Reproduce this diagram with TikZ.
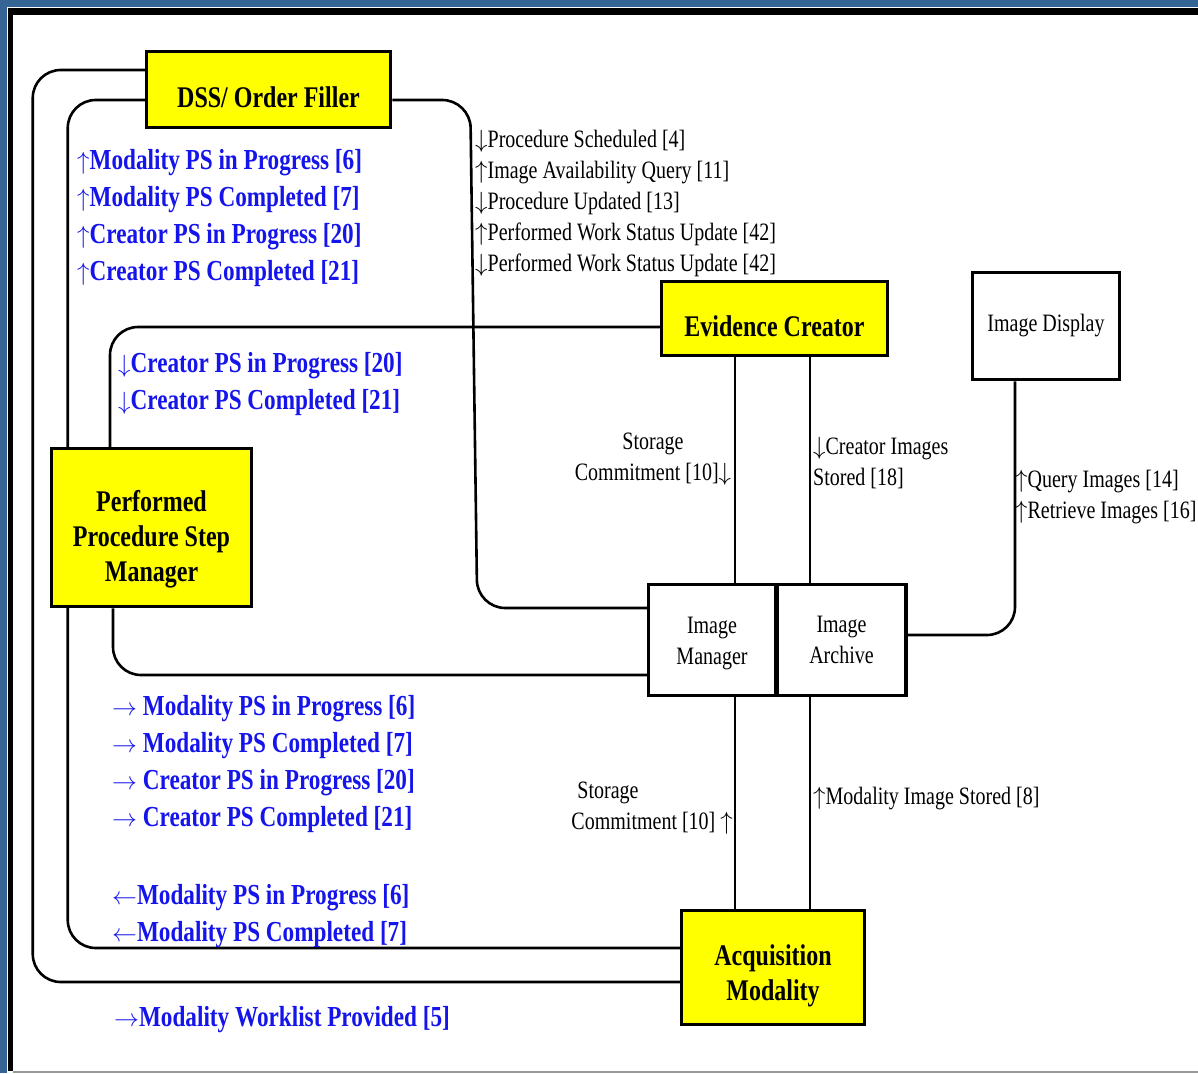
\documentclass[tikz,border=0pt]{standalone}
\usepackage{fontspec}
\newfontfamily\condfont{Liberation Serif}[FakeStretch=0.8]
\usetikzlibrary{positioning,backgrounds}

\definecolor{frameblue}{RGB}{52,101,148}
\definecolor{boxyellow}{RGB}{255,255,0}
\definecolor{psblue}{RGB}{20,20,235}
\newcommand{\msgfont}{\condfont\fontsize{25}{31}\selectfont}
\newcommand{\boxfont}{\condfont\bfseries\fontsize{30}{35}\selectfont}
\newcommand{\psfont}{\condfont\bfseries\fontsize{29}{37}\selectfont}
\newcommand{\arrup}{$\uparrow$}
\newcommand{\arrdn}{$\downarrow$}
\newcommand{\arrrt}{$\rightarrow$}
\newcommand{\arrlt}{$\leftarrow$}

\begin{document}
\begin{tikzpicture}[x=1pt,y=-1pt,lift/.style={execute at begin node={\rule{0pt}{#1}}}]
  \tikzstyle{actor}=[draw,line width=3.5pt,fill=boxyellow,inner sep=0pt,align=center,font=\boxfont]
  \tikzstyle{store}=[actor,fill=white,font=\msgfont]
  \tikzstyle{link}=[line width=2.6pt,rounded corners=28pt]
  \tikzstyle{wire}=[line width=2.2pt]
  \tikzstyle{msg}=[anchor=west,align=left,inner sep=0pt,font=\msgfont]
  \tikzstyle{psmsg}=[msg,text=psblue,font=\psfont]

  \useasboundingbox (0,0) rectangle (1198,1073);
  % frame
  \fill[frameblue] (0,0) rectangle (1198,7);
  \fill[frameblue] (0,0) rectangle (7,1073);
  \fill (8,8) rectangle (1198,15);
  \fill (8,8) rectangle (13,1071);
  \fill[black!40] (13,1071) rectangle (1198,1073);

  % actors
  \node[actor,lift=37pt,minimum width=244pt,minimum height=76pt] (dss) at (268.5,89.5) {DSS/ Order Filler};
  \node[actor,lift=37pt,minimum width=226pt,minimum height=74pt] (ec) at (774.5,318.5) {Evidence Creator};
  \node[store,minimum width=147pt,minimum height=107pt] (id) at (1046,326) {Image Display};
  \node[actor,lift=115pt,minimum width=200pt,minimum height=158pt] (ppsm) at (151.5,527.5) {Performed\\Procedure Step\\Manager};
  \node[store,lift=54pt,minimum width=127pt,minimum height=111pt] (im) at (712,640) {Image\\Manager};
  \node[store,minimum width=129pt,minimum height=111pt,right=-2pt of im] (ia) {Image\\Archive};
  \node[actor,lift=72pt,minimum width=183pt,minimum height=114pt] (am) at (773,967.5) {Acquisition\\Modality};

  \begin{scope}[on background layer]
    \draw[link] ([yshift=19.5pt]dss.west) -- ++(-112,0) -- ++(0,912) -- ([yshift=-14.5pt]am.west);
    \draw[link] ([yshift=-10.5pt]dss.west) -- ++(-77,0) -- ++(0,848) -- ([yshift=19.5pt]am.west);
    \draw[link] ([yshift=-10.5pt]dss.east) -- ++(78,0) -- ++(7,508) -- ([yshift=32pt]im.west);
    \draw[link] ([yshift=-8.5pt]ec.west) -| ([xshift=-41.5pt]ppsm.north);
    \draw[link] ([xshift=-38.5pt]ppsm.south) |- ([yshift=-35pt]im.west);
    \draw[link] ([xshift=-31pt]id.south) |- ([yshift=5pt]ia.east);
    \draw[wire] ([xshift=-39.5pt]ec.south) -- ([xshift=-39.5pt]ec.south |- im.north);
    \draw[wire] ([xshift=35.5pt]ec.south) -- ([xshift=35.5pt]ec.south |- ia.north);
    \draw[wire] ([xshift=-38pt]am.north) -- ([xshift=-38pt]am.north |- im.south);
    \draw[wire] ([xshift=37pt]am.north) -- ([xshift=37pt]am.north |- ia.south);
  \end{scope}

  % transactions
  \node[psmsg] (up ps) at (77,218) {\arrup Modality PS in Progress [6]\\\arrup Modality PS Completed [7]\\\arrup Creator PS in Progress [20]\\\arrup Creator PS Completed [21]};
  \node[msg] (dss msgs) at (475,203.5) {\arrdn Procedure Scheduled [4]\\\arrup Image Availability Query [11]\\\arrdn Procedure Updated [13]\\\arrup Performed Work Status Update [42]\\\arrdn Performed Work Status Update [42]};
  \node[psmsg] (ec ps) at (118,384) {\arrdn Creator PS in Progress [20]\\\arrdn Creator PS Completed [21]};
  \node[msg,anchor=center,align=center] (ec commit) at (653,459) {Storage\\Commitment [10]\arrdn};
  \node[msg] (ec store) at (813,463) {\arrdn Creator Images\\Stored [18]};
  \node[msg] (id query) at (1015,497.5) {\arrup Query Images [14]\\\arrup Retrieve Images [16]};
  \node[psmsg] (mpps fwd) at (112,764) {\arrrt{} Modality PS in Progress [6]\\\arrrt{} Modality PS Completed [7]\\\arrrt{} Creator PS in Progress [20]\\\arrrt{} Creator PS Completed [21]};
  \node[msg,anchor=east] (am commit) at (733,808.5) {\hspace{6pt}Storage\\Commitment [10] \arrup};
  \node[msg] (am store) at (813,799) {\arrup Modality Image Stored [8]};
  \node[psmsg] (mpps back) at (112,916.5) {\arrlt Modality PS in Progress [6]\\\arrlt Modality PS Completed [7]};
  \node[psmsg] (mwl) at (114,1020) {\arrrt Modality Worklist Provided [5]};
\end{tikzpicture}
\end{document}
